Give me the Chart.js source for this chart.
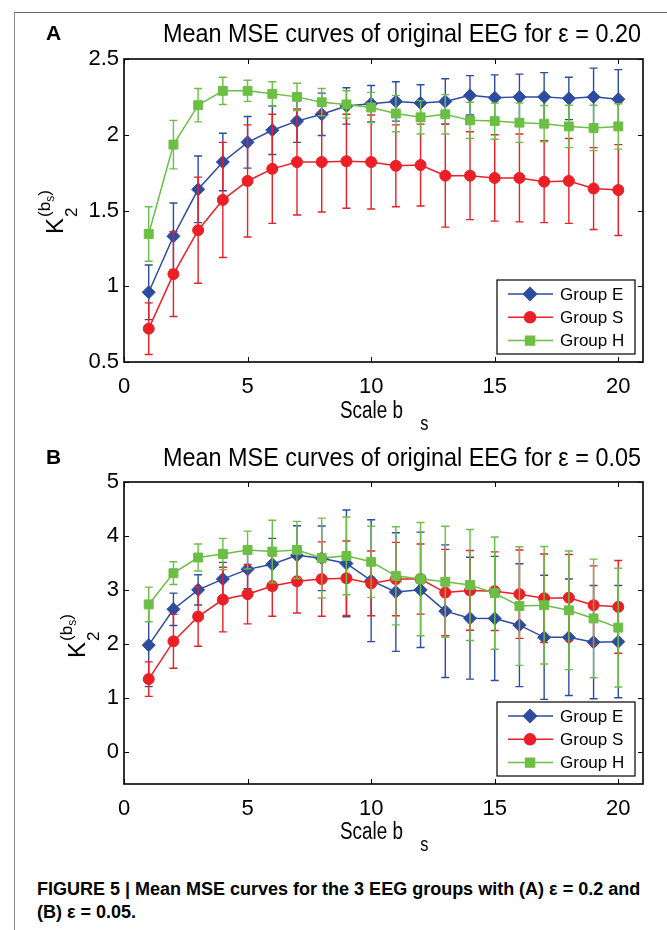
<!DOCTYPE html>
<html>
<head>
<meta charset="utf-8">
<script src="https://cdn.jsdelivr.net/npm/chart.js@4.4.1/dist/chart.umd.min.js"></script>
<style>
  body { margin: 0; background: #fff; width: 667px; height: 930px; overflow: hidden; position: relative;
         font-family: "Liberation Sans", Arial, sans-serif; color: #000; }
  #frame { position: absolute; left: 14px; top: 12px; width: 653px; height: 918px;
           border-left: 1.5px solid #8a8a8a; border-top: 1.5px solid #666; }
  canvas { position: absolute; left: 0; }
  .letter { position: absolute; left: 46px; font-weight: bold; font-size: 21px; line-height: 22px; }
  .title { position: absolute; left: 163px; font-size: 26px; line-height: 28px; white-space: nowrap;
           transform: scaleX(0.9); transform-origin: 0 0; }
  .xlab { position: absolute; left: 340px; font-size: 23px; line-height: 22px; white-space: nowrap;
          transform: scaleX(0.82); transform-origin: 0 0; }
  .xlab .s { position: relative; top: 12px; left: 21px; font-size: 20px; }
  .ylab { position: absolute; font-size: 24px; line-height: 24px; white-space: nowrap;
          transform: rotate(-90deg); transform-origin: 0 0; }
  .stack { display: inline-block; position: relative; width: 28px; height: 1px; }
  .stack > span { position: absolute; left: 1px; font-size: 17px; line-height: 17px; }
  .stack .up { top: -26px; }
  .stack .dn { top: 1px; }
  .stack .up i { font-style: normal; font-size: 12px; position: relative; top: 4px; }
  .caption { position: absolute; left: 37px; top: 878px; font-weight: bold; font-size: 18px; line-height: 23px;
             white-space: nowrap; }
</style>
</head>
<body>
<div id="frame"></div>

<canvas id="chartA" width="667" height="440" style="top:0"></canvas>
<canvas id="chartB" width="667" height="420" style="top:440px"></canvas>

<div class="letter" style="top:22px">A</div>
<div class="title" style="top:19px">Mean MSE curves of original EEG for ε = 0.20</div>
<div class="ylab" style="left:43px; top:234px">K<span class="stack"><span class="up">(b<i>s</i>)</span><span class="dn">2</span></span></div>
<div class="xlab" style="top:399px">Scale b<span class="s">s</span></div>

<div class="letter" style="top:446px">B</div>
<div class="title" style="top:443px">Mean MSE curves of original EEG for ε = 0.05</div>
<div class="ylab" style="left:65px; top:658px">K<span class="stack"><span class="up">(b<i>s</i>)</span><span class="dn">2</span></span></div>
<div class="xlab" style="top:820px">Scale b<span class="s">s</span></div>

<div class="caption">FIGURE 5 | Mean MSE curves for the 3 EEG groups with (A) ε = 0.2 and<br>(B) ε = 0.05.</div>

<script>
'use strict';

// scale b_s
var scales = [1, 2, 3, 4, 5, 6, 7, 8, 9, 10, 11, 12, 13, 14, 15, 16, 17, 18, 19, 20];
var xTicks = [0, 5, 10, 15, 20];

// panel A, epsilon = 0.20
var yTicksA = [0.5, 1, 1.5, 2, 2.5];
var groupE_A = [0.96, 1.33, 1.64, 1.82, 1.95, 2.03, 2.09, 2.135, 2.19, 2.205, 2.22, 2.21, 2.22, 2.26, 2.245, 2.25, 2.25, 2.24, 2.25, 2.235];
var errE_A   = [0.18, 0.22, 0.22, 0.19, 0.17, 0.16, 0.14, 0.14, 0.12, 0.12, 0.13, 0.12, 0.15, 0.13, 0.15, 0.15, 0.16, 0.14, 0.19, 0.195];
var groupS_A = [0.72, 1.08, 1.37, 1.57, 1.695, 1.775, 1.82, 1.82, 1.825, 1.82, 1.795, 1.8, 1.73, 1.73, 1.715, 1.715, 1.69, 1.695, 1.645, 1.635];
var errS_A   = [0.17, 0.28, 0.35, 0.38, 0.37, 0.36, 0.35, 0.33, 0.31, 0.31, 0.27, 0.27, 0.34, 0.29, 0.285, 0.29, 0.27, 0.28, 0.27, 0.3];
var groupH_A = [1.345, 1.935, 2.195, 2.29, 2.29, 2.27, 2.25, 2.215, 2.2, 2.18, 2.14, 2.115, 2.135, 2.095, 2.09, 2.08, 2.073, 2.055, 2.045, 2.055];
var errH_A   = [0.18, 0.16, 0.11, 0.09, 0.07, 0.08, 0.09, 0.09, 0.09, 0.1, 0.12, 0.11, 0.13, 0.12, 0.12, 0.13, 0.12, 0.14, 0.15, 0.15];

// panel B, epsilon = 0.05
var yTicksB = [0, 1, 2, 3, 4, 5];
var groupE_B = [1.975, 2.64, 3.0, 3.2, 3.38, 3.475, 3.64, 3.585, 3.49, 3.17, 2.96, 3.0, 2.605, 2.475, 2.47, 2.345, 2.12, 2.12, 2.03, 2.04];
var errE_B   = [0.77, 0.3, 0.28, 0.31, 0.36, 0.48, 0.55, 0.6, 0.99, 1.13, 1.1, 1.07, 1.23, 1.13, 1.15, 1.14, 1.15, 1.08, 1.05, 1.04];
var groupS_B = [1.345, 2.045, 2.505, 2.82, 2.92, 3.07, 3.16, 3.2, 3.215, 3.12, 3.2, 3.2, 2.95, 2.99, 2.975, 2.92, 2.845, 2.855, 2.715, 2.685];
var errS_B   = [0.32, 0.5, 0.55, 0.6, 0.55, 0.56, 0.59, 0.69, 0.69, 0.6, 0.68, 0.65, 0.8, 0.74, 0.73, 0.82, 0.82, 0.8, 0.73, 0.86];
var groupH_B = [2.73, 3.31, 3.6, 3.665, 3.74, 3.71, 3.74, 3.59, 3.63, 3.52, 3.26, 3.2, 3.15, 3.09, 2.94, 2.7, 2.715, 2.62, 2.47, 2.3];
var errH_B   = [0.32, 0.21, 0.25, 0.29, 0.35, 0.58, 0.53, 0.74, 0.72, 0.66, 0.91, 1.05, 1.03, 1.03, 1.04, 1.1, 1.09, 1.1, 1.1, 1.1];

var BLUE = 'rgb(44, 76, 160)';
var RED = 'rgb(236, 30, 38)';
var GREEN = 'rgb(108, 190, 69)';
var FONT = '"Liberation Sans", Arial, sans-serif';

function points(vals) {
  return scales.map(function (x, i) { return { x: x, y: vals[i] }; });
}

function makeDatasets(e, errE, s, errS, h, errH) {
  return [
    { label: 'Group E', data: points(e), errors: errE, borderColor: BLUE, backgroundColor: BLUE,
      pointStyle: 'rectRot', pointRadius: 6.5, order: 2 },
    { label: 'Group S', data: points(s), errors: errS, borderColor: RED, backgroundColor: RED,
      pointStyle: 'circle', pointRadius: 5.5, order: 1 },
    { label: 'Group H', data: points(h), errors: errH, borderColor: GREEN, backgroundColor: GREEN,
      pointStyle: 'rect', pointRadius: 6.3, order: 0 }
  ];
}

// error bars, drawn under each series line
var errorBars = {
  id: 'errorBars',
  beforeDatasetDraw: function (chart, args) {
    var ds = chart.data.datasets[args.index];
    var xs = chart.scales.x, ys = chart.scales.y, ctx = chart.ctx;
    ctx.save();
    ctx.strokeStyle = ds.borderColor;
    ctx.lineWidth = 1.4;
    ds.data.forEach(function (p, i) {
      var e = ds.errors[i];
      var x = xs.getPixelForValue(p.x);
      var lo = ys.getPixelForValue(p.y - e), hi = ys.getPixelForValue(p.y + e);
      ctx.beginPath();
      ctx.moveTo(x, lo); ctx.lineTo(x, hi);
      ctx.moveTo(x - 4, lo); ctx.lineTo(x + 4, lo);
      ctx.moveTo(x - 4, hi); ctx.lineTo(x + 4, hi);
      ctx.stroke();
    });
    ctx.restore();
  }
};

// matlab style box, inward ticks and legend
var boxAndLegend = {
  id: 'boxAndLegend',
  afterDatasetsDraw: function (chart) {
    var ctx = chart.ctx, a = chart.chartArea;
    var xs = chart.scales.x, ys = chart.scales.y;
    ctx.save();
    ctx.strokeStyle = '#000';
    ctx.lineWidth = 1;
    ctx.beginPath();
    xs.ticks.forEach(function (t) {
      var px = Math.round(xs.getPixelForValue(t.value)) + 0.5;
      ctx.moveTo(px, a.bottom); ctx.lineTo(px, a.bottom - 5);
      ctx.moveTo(px, a.top); ctx.lineTo(px, a.top + 5);
    });
    ys.ticks.forEach(function (t) {
      var py = Math.round(ys.getPixelForValue(t.value)) + 0.5;
      ctx.moveTo(a.left, py); ctx.lineTo(a.left + 5, py);
      ctx.moveTo(a.right, py); ctx.lineTo(a.right - 5, py);
    });
    ctx.stroke();
    ctx.lineWidth = 1.6;
    ctx.strokeRect(a.left, a.top, a.right - a.left, a.bottom - a.top);

    // legend box
    var w = 138, h = 74;
    var lx = a.right - 8 - w, ly = a.bottom - 8 - h;
    ctx.fillStyle = '#fff';
    ctx.fillRect(lx, ly, w, h);
    ctx.lineWidth = 1.2;
    ctx.strokeRect(lx, ly, w, h);
    ctx.font = '17px ' + FONT;
    ctx.textBaseline = 'middle';
    ctx.textAlign = 'left';
    chart.data.datasets.forEach(function (ds, i) {
      var ry = ly + 14 + i * 23.3;
      ctx.strokeStyle = ds.borderColor;
      ctx.fillStyle = ds.backgroundColor;
      ctx.lineWidth = 1.5;
      ctx.beginPath();
      ctx.moveTo(lx + 11, ry); ctx.lineTo(lx + 56, ry);
      ctx.stroke();
      Chart.helpers.drawPoint(ctx, { pointStyle: ds.pointStyle, radius: ds.pointRadius, rotation: 0, borderWidth: 1 }, lx + 33, ry);
      ctx.fillStyle = '#000';
      ctx.fillText(ds.label, lx + 63, ry + 1);
    });
    ctx.restore();
  }
};

function makeChart(id, datasets, yMin, yMax, yTicks, padTop, xHeight) {
  var ctx = document.getElementById(id).getContext('2d');
  return new Chart(ctx, {
    type: 'line',
    data: { datasets: datasets },
    options: {
      responsive: false,
      animation: false,
      events: [],
      layout: { padding: { top: padTop, right: 24, left: 0, bottom: 0 } },
      elements: {
        line: { borderWidth: 1.5, tension: 0 },
        point: { borderWidth: 1 }
      },
      plugins: { legend: { display: false }, tooltip: { enabled: false } },
      scales: {
        x: {
          type: 'linear', min: 0, max: 21,
          grid: { display: false, drawTicks: false }, border: { display: false },
          afterBuildTicks: function (s) { s.ticks = xTicks.map(function (v) { return { value: v }; }); },
          afterFit: function (s) { s.height = xHeight; },
          ticks: { color: '#000', padding: 12, maxRotation: 0, font: { family: FONT, size: 22 },
                   callback: function (v) { return String(v); } }
        },
        y: {
          type: 'linear', min: yMin, max: yMax,
          grid: { display: false, drawTicks: false }, border: { display: false },
          afterBuildTicks: function (s) { s.ticks = yTicks.map(function (v) { return { value: v }; }); },
          afterFit: function (s) { s.width = 124; },
          ticks: { color: '#000', padding: 5, font: { family: FONT, size: 22 },
                   callback: function (v) { return String(v); } }
        }
      }
    },
    plugins: [errorBars, boxAndLegend]
  });
}

makeChart('chartA', makeDatasets(groupE_A, errE_A, groupS_A, errS_A, groupH_A, errH_A), 0.5, 2.5, yTicksA, 59, 78);
makeChart('chartB', makeDatasets(groupE_B, errE_B, groupS_B, errS_B, groupH_B, errH_B), -0.6, 5, yTicksB, 42, 76);
</script>
</body>
</html>
